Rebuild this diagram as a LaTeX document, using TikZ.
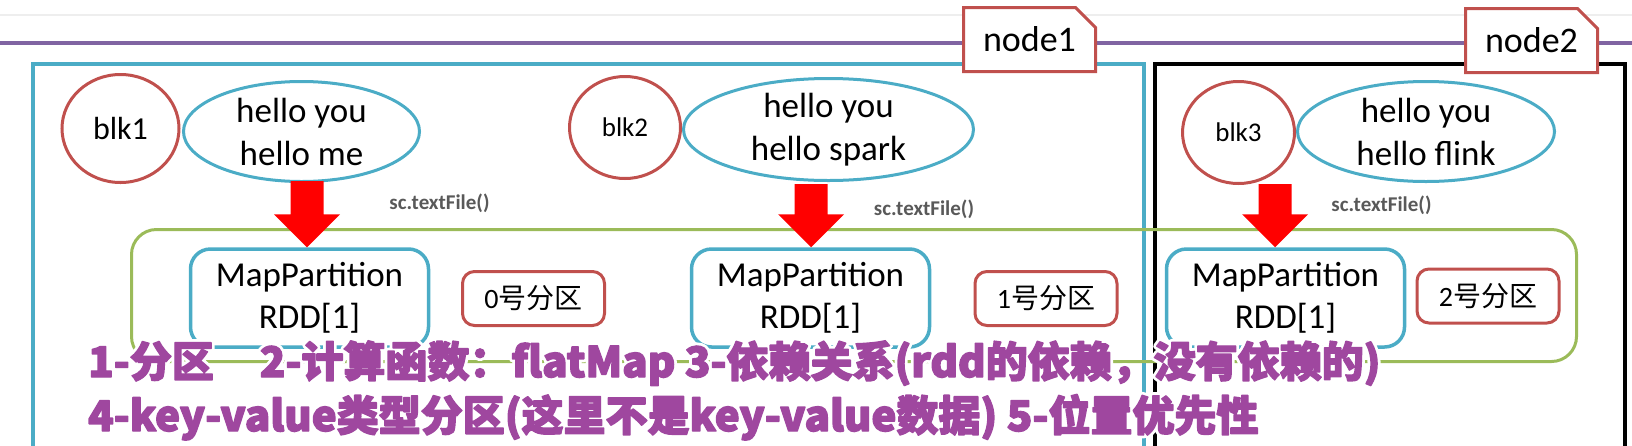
\documentclass[tikz,border=0pt]{standalone}
\usepackage{fontspec}
\setmainfont{Carlito}
\newfontfamily\cjk{Noto Sans CJK SC}
\usetikzlibrary{shapes.geometric,shapes.misc}
\definecolor{cyanline}{HTML}{4BACC6}
\definecolor{redline}{HTML}{C0504D}
\definecolor{greenline}{HTML}{9BBB59}
\definecolor{purpleline}{HTML}{8064A2}
\definecolor{captionpurple}{HTML}{9F479F}
\definecolor{labelgray}{HTML}{595959}
\definecolor{topgray}{HTML}{EEEEEE}
\definecolor{arrowred}{HTML}{FF0000}
\newcommand\halostart{\special{pdf:literal direct 1 1 1 RG 7 w 1 j 1 Tr}}
\newcommand\heavystart{\special{pdf:literal direct 0.624 0.278 0.624 RG 1.4 w 1 j 2 Tr}}
\newcommand\haloend{\special{pdf:literal direct 0 Tr}}
\newcommand\blockarrow[2]{%
  \fill[arrowred] ([xshift=-16.5pt]#1) -- ([xshift=16.5pt]#1)
    -- ([xshift=16.5pt,yshift=33pt]#2) -- ([xshift=33pt,yshift=33pt]#2)
    -- (#2) -- ([xshift=-33pt,yshift=33pt]#2)
    -- ([xshift=-16.5pt,yshift=33pt]#2) -- cycle;}
\begin{document}
\begin{tikzpicture}[x=1pt,y=-1pt,
  tagbox/.style={chamfered rectangle, chamfered rectangle corners=north east,
    chamfered rectangle xsep=11pt, chamfered rectangle ysep=9pt,
    draw=redline, line width=3pt, fill=white, minimum width=132pt,
    minimum height=64pt, inner sep=0pt, font=\fontsize{36}{43}\selectfont},
  blkcirc/.style={ellipse, draw=redline, line width=3pt, inner sep=0pt},
  textell/.style={ellipse, draw=cyanline, line width=3pt, inner sep=0pt},
  elltext/.style={inner sep=0pt, align=center, font=\fontsize{35}{43}\selectfont},
  mpbox/.style={rectangle, rounded corners=20pt, draw=cyanline, line width=3.5pt,
    fill=white, minimum width=238pt, minimum height=98pt, inner sep=0pt,
    align=center, font=\fontsize{35}{42}\selectfont},
  partbox/.style={rectangle, rounded corners=12pt, draw=redline, line width=3pt,
    minimum width=142pt, minimum height=54pt, inner sep=0pt,
    font=\fontsize{28}{34}\selectfont},
  greenbox/.style={rectangle, rounded corners=25pt, draw=greenline, line width=3pt,
    minimum width=1445pt, minimum height=132pt, inner sep=0pt},
  sclabel/.style={inner sep=0pt, text=labelgray, font=\bfseries\fontsize{21}{25}\selectfont},
  caption/.style={anchor=base west, inner sep=0pt, text=captionpurple,
    font=\cjk\bfseries\fontsize{42}{50}\selectfont},
  captionhalo/.style={caption, text=white}
]
\useasboundingbox (0,0) rectangle (1632,445);
% top lines
\draw[topgray, line width=2pt] (0,15) -- (1632,15);
\draw[purpleline, line width=3.5pt] (0,43) -- (1632,43);
% frames
\draw[cyanline, line width=3.5pt] (33,470) -- (33,64) -- (1144,64) -- (1144,470);
\draw[black, line width=4pt] (1155,470) -- (1155,64) -- (1625,64) -- (1625,470);
% node tags
\node[tagbox] (node1) at (1029.5,39.5) {node1};
\node[tagbox] (node2) at (1531.5,40.5) {node2};
% blocks and text ellipses
\node[blkcirc, minimum width=117pt, minimum height=108pt] (blk1) at (120.5,128.5) {};
\node[inner sep=0pt, font=\fontsize{32}{38}\selectfont] (blk1t) at (blk1) {blk1};
\node[textell, minimum width=236pt, minimum height=100pt] (ell1) at (301.5,131.5) {};
\node[elltext] (ell1t) at (ell1) {hello you\\hello me};

\node[blkcirc, minimum width=111pt, minimum height=102pt] (blk2) at (625,127.5) {};
\node[inner sep=0pt, font=\fontsize{27}{32}\selectfont] (blk2t) at (blk2) {blk2};
\node[textell, minimum width=290pt, minimum height=102pt] (ell2) at (828.5,129.5) {};
\node[elltext] (ell2t) at (ell2) {hello you\\hello spark};

\node[blkcirc, minimum width=112pt, minimum height=102pt] (blk3) at (1238.5,132.5) {};
\node[inner sep=0pt, font=\fontsize{27}{32}\selectfont] (blk3t) at (blk3) {blk3};
\node[textell, minimum width=257pt, minimum height=100pt] (ell3) at (1426,131.5) {};
\node[elltext] (ell3t) at (ell3) {hello you\\hello flink};
% partition group
\node[greenbox] (group) at (854,295.5) {};
\node[mpbox] (mp1) at (309.5,298) {MapPartition\\RDD[1]};
\node[mpbox] (mp2) at (810.5,298) {MapPartition\\RDD[1]};
\node[mpbox] (mp3) at (1285.5,298) {MapPartition\\RDD[1]};
\node[partbox] (p0) at (533.5,298.5) {0{\cjk 号分区}};
\node[partbox] (p1) at (1046,298.5) {1{\cjk 号分区}};
\node[partbox] (p2) at (1488,296) {2{\cjk 号分区}};
% arrows
\coordinate (a1s) at (307,181);
\coordinate (a2s) at (811,184);
\coordinate (a3s) at (1275,184);
\coordinate (a1t) at (a1s |- mp1.north);
\coordinate (a2t) at (a2s |- mp2.north);
\coordinate (a3t) at (a3s |- mp3.north);
\blockarrow{a1s}{a1t}
\blockarrow{a2s}{a2t}
\blockarrow{a3s}{a3t}
\node[sclabel] (sc1) at (439.5,203) {sc.textFile()};
\node[sclabel] (sc2) at (924,209) {sc.textFile()};
\node[sclabel] (sc3) at (1381.5,205) {sc.textFile()};
% captions
\node[captionhalo] (cap1h) at (88,377) {\halostart 1-分区\hspace{46pt}2-计算函数：flatMap 3-依赖关系(rdd的依赖，没有依赖的)\haloend};
\node[caption] (cap1) at (88,377) {\heavystart 1-分区\hspace{46pt}2-计算函数：flatMap 3-依赖关系(rdd的依赖，没有依赖的)\haloend};
\node[captionhalo] (cap2h) at (88,431) {\halostart 4-key-value类型分区(这里不是key-value数据) 5-位置优先性\haloend};
\node[caption] (cap2) at (88,431) {\heavystart 4-key-value类型分区(这里不是key-value数据) 5-位置优先性\haloend};
\end{tikzpicture}
\end{document}
